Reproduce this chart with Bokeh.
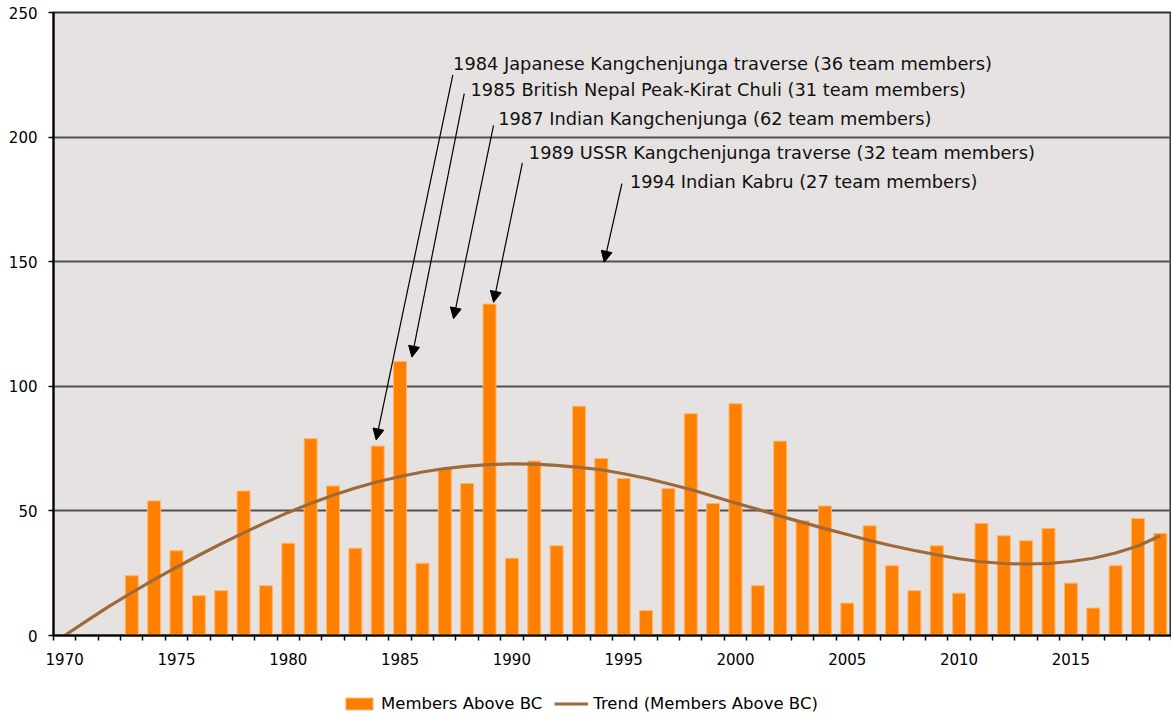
from bokeh.plotting import figure
from bokeh.layouts import column
from bokeh.models import (Range1d, FixedTicker, Arrow, NormalHead, Legend,
                          LegendItem, Label)
from bokeh.embed import file_html
from bokeh.resources import INLINE

# ---------------- data ----------------
bar_years = list(range(1973, 2020))
members_above_bc = [24, 54, 34, 16, 18, 58, 20, 37, 79, 60,
                    35, 76, 110, 29, 67, 61, 133, 31, 70, 36,
                    92, 71, 63, 10, 59, 89, 53, 93, 20, 78,
                    46, 52, 13, 44, 28, 18, 36, 17, 45, 40,
                    38, 43, 21, 11, 28, 47, 41]

trend_years = list(range(1970, 2020))
trend_values = [0.0, 6.0, 11.8, 17.2, 22.4, 27.4, 32.2, 36.8, 41.2, 45.4,
                49.4, 53.0, 56.3, 59.2, 61.7, 63.8, 65.6, 67.0, 68.0, 68.6,
                68.9, 68.8, 68.3, 67.5, 66.5, 64.9, 63.1, 60.9, 58.6, 55.9,
                53.2, 50.6, 47.9, 45.4, 42.9, 40.5, 38.1, 36.0, 34.1, 32.4,
                30.8, 29.6, 28.9, 28.7, 28.9, 29.7, 31.0, 33.1, 35.9, 40.0]

x_tick_years = [1970, 1975, 1980, 1985, 1990, 1995, 2000, 2005, 2010, 2015]
x_tick_labels = ["1970", "1975", "1980", "1985", "1990", "1995", "2000", "2005", "2010", "2015"]
y_ticks = [0, 50, 100, 150, 200, 250]

series_names = ["Members Above BC", "Trend (Members Above BC)"]

annotation_texts = [
    "1984 Japanese Kangchenjunga traverse (36 team members)",
    "1985 British Nepal Peak-Kirat Chuli (31 team members)",
    "1987 Indian Kangchenjunga (62 team members)",
    "1989 USSR Kangchenjunga traverse (32 team members)",
    "1994 Indian Kabru (27 team members)",
]

# ---------------- styles ----------------
FONT = "DejaVu Sans"
BAR_FILL = "#FF8000"
BAR_LINE = "#FFB56A"
TREND = "#9E6A3A"

# ---------------- main figure ----------------
p = figure(width=1171, height=671,
           x_range=Range1d(1969.5, 2019.5), y_range=Range1d(0, 250),
           output_backend="svg", toolbar_location=None,
           min_border_left=53, min_border_right=0,
           min_border_top=12, min_border_bottom=36)

p.background_fill_color = "#E6E2E2"
p.border_fill_color = "white"
p.outline_line_color = "#303030"
p.outline_line_width = 2

p.xgrid.visible = False
p.ygrid.ticker = FixedTicker(ticks=y_ticks)
p.ygrid.grid_line_color = "#505050"
p.ygrid.grid_line_width = 2

# y axis
p.yaxis.ticker = FixedTicker(ticks=y_ticks)
p.yaxis.major_tick_out = 5
p.yaxis.major_tick_in = 0
p.yaxis.minor_tick_line_color = None
p.yaxis.axis_line_color = "black"
p.yaxis.axis_line_width = 2
p.yaxis.major_tick_line_color = "black"
p.yaxis.major_tick_line_width = 1.5
p.yaxis.major_label_text_font = FONT
p.yaxis.major_label_text_font_size = "15px"
p.yaxis.major_label_text_color = "black"
p.yaxis.major_label_standoff = 11

# x axis: category boundaries as ticks, labels at every fifth year
p.xaxis.ticker = FixedTicker(ticks=x_tick_years,
                             minor_ticks=[y - 0.5 for y in trend_years] + [trend_years[-1] + 0.5])
p.xaxis.major_label_overrides = {y: s for y, s in zip(x_tick_years, x_tick_labels)}
p.xaxis.major_tick_out = 0
p.xaxis.major_tick_in = 0
p.xaxis.minor_tick_out = 5
p.xaxis.minor_tick_in = 0
p.xaxis.minor_tick_line_color = "black"
p.xaxis.minor_tick_line_width = 1.5
p.xaxis.axis_line_color = "black"
p.xaxis.axis_line_width = 2
p.xaxis.major_label_text_font = FONT
p.xaxis.major_label_text_font_size = "15px"
p.xaxis.major_label_text_color = "black"
p.xaxis.major_label_standoff = 12

# ---------------- glyphs ----------------
bars = p.vbar(x=bar_years, top=members_above_bc, width=0.58,
              fill_color=BAR_FILL, line_color=BAR_LINE, line_width=1)
trend = p.line(trend_years, trend_values, line_color=TREND, line_width=3.2)

# ---------------- annotations ----------------
text_pos = [(1987.37, 229.4), (1988.15, 219.0), (1989.39, 207.3),
            (1990.76, 193.9), (1995.28, 182.1)]
arrow_pos = [((1987.36, 225.0), (1983.93, 78.5)),
             ((1987.87, 217.4), (1985.53, 111.7)),
             ((1989.18, 204.7), (1987.39, 127.1)),
             ((1990.47, 189.7), (1989.18, 133.7)),
             ((1994.92, 181.3), (1994.13, 149.8))]

for (xs, ys), (xe, ye) in arrow_pos:
    p.add_layout(Arrow(x_start=xs, y_start=ys, x_end=xe, y_end=ye,
                       line_color="black", line_width=1.2,
                       end=NormalHead(size=11, fill_color="black",
                                      line_color="black", line_width=1)))

for txt, (tx, ty) in zip(annotation_texts, text_pos):
    p.add_layout(Label(x=tx, y=ty, text=txt, text_font=FONT,
                       text_font_size="17.8px", text_color="#111111",
                       text_align="left", text_baseline="middle"))

# ---------------- legend strip (below the chart) ----------------
lg = figure(width=1171, height=46, x_range=Range1d(0, 1), y_range=Range1d(0, 1),
            output_backend="svg", toolbar_location=None,
            x_axis_type=None, y_axis_type=None, min_border=0)
lg.grid.visible = False
lg.outline_line_color = None
lg.background_fill_color = "white"
lg.border_fill_color = "white"
# legend-key renderers: same series, lying outside this strip's visible range,
# so that only their legend keys are seen
key_bar = lg.vbar(x=bar_years, top=members_above_bc, width=0.58,
                  fill_color=BAR_FILL, line_color=BAR_LINE, line_width=1)
key_line = lg.line(trend_years, trend_values, line_color=TREND, line_width=3.2)

legend = Legend(items=[LegendItem(label=series_names[0], renderers=[key_bar]),
                       LegendItem(label=series_names[1], renderers=[key_line])],
                orientation="horizontal", location=(289, 4),
                border_line_alpha=0, background_fill_alpha=0,
                padding=0, margin=0, spacing=12,
                glyph_width=34, glyph_height=15, label_standoff=5,
                label_text_font=FONT, label_text_font_size="16.5px",
                label_text_color="black")
lg.add_layout(legend)

layout = column(p, lg, spacing=0)
open("out.html", "w").write(file_html(layout, INLINE))
